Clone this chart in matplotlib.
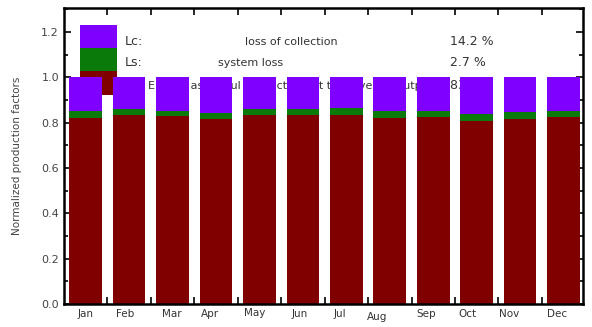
import matplotlib.pyplot as plt
from matplotlib.patches import Rectangle
from matplotlib.ticker import MultipleLocator

months = ["Jan", "Feb", "Mar", "Apr", "May", "Jun",
          "Jul", "Aug", "Sep", "Oct", "Nov", "Dec"]
# Yf: useful energy, Ls: system loss, Lc: collection loss (normalized)
yf = [0.823, 0.835, 0.831, 0.816, 0.835, 0.835,
      0.835, 0.823, 0.827, 0.809, 0.818, 0.825]
ls = [0.027, 0.027, 0.023, 0.027, 0.027, 0.027,
      0.030, 0.030, 0.023, 0.029, 0.029, 0.028]
lc = [1.0 - a - b for a, b in zip(yf, ls)]

legend_keys = ["Lc:", "Ls:", "Ef:"]
legend_desc = ["loss of collection", "system loss",
               "Energy as useful production (at the inverter output)"]
legend_vals = ["14.2 %", "2.7 %", "83.1 %"]

c_red = "#800000"
c_green = "#0a7a0a"
c_purple = "#8000ff"

fig = plt.figure(figsize=(5.92, 3.27), dpi=100)
ax = fig.add_axes([0.108, 0.070, 0.877, 0.906])

x = list(range(len(months)))
w = 0.75
ax.bar(x, yf, width=w, color=c_red, zorder=3)
ax.bar(x, ls, width=w, bottom=yf, color=c_green, zorder=3)
ax.bar(x, lc, width=w, bottom=[a + b for a, b in zip(yf, ls)], color=c_purple, zorder=3)

# legend block drawn behind the bars
sq_x, sq_w, sq_h = -0.13, 0.85, 0.103
for i, col in enumerate([c_purple, c_green, c_red]):
    ax.add_patch(Rectangle((sq_x, 1.130 - i * sq_h), sq_w, sq_h, color=col, zorder=1, lw=0))
txt_y = [1.157, 1.065, 0.963]
desc_x = [4.73, 3.79, 1.43]
for i in range(3):
    ax.text(0.91, txt_y[i], legend_keys[i], fontsize=9, color="#333333", va="center", zorder=2)
    ax.text(desc_x[i], txt_y[i], legend_desc[i], fontsize=8, color="#333333",
            va="center", ha="center" if i < 2 else "left", zorder=2)
    ax.text(8.39, txt_y[i], legend_vals[i], fontsize=9, color="#333333", va="center", zorder=2)

ax.set_xlim(-0.5, 11.45)
ax.set_ylim(0, 1.307)
ax.yaxis.set_major_locator(MultipleLocator(0.2))
ax.yaxis.set_minor_locator(MultipleLocator(0.1))
ax.yaxis.set_major_formatter(plt.FuncFormatter(lambda v, p: f"{v:.1f}"))
ax.set_xticks([i + 0.5 for i in range(11)])
ax.set_xticklabels([])
ax.tick_params(axis="both", which="both", direction="in", top=True, right=True,
               length=5, width=1.2, color="black", labelsize=8, labelcolor="#444444")
ax.tick_params(axis="y", which="minor", length=3)
for s in ax.spines.values():
    s.set_linewidth(1.8)
    s.set_zorder(5)

lab_dx = [0.0, -0.1, -0.02, -0.13, -0.12, -0.08,
          -0.16, -0.3, -0.16, -0.22, -0.25, -0.14]
lab_dy = [0, 0, 0, 0, 0.004, 0, 0, -0.012, 0, 0, 0, 0]
for i, m in enumerate(months):
    ax.text(i + lab_dx[i], -0.045 + lab_dy[i], m, fontsize=7.5, color="#333333",
            ha="center", va="center")

ax.set_ylabel("Normalized production factors", fontsize=7.5, color="#444444", labelpad=14)

fig.savefig("out.png", dpi=100)
